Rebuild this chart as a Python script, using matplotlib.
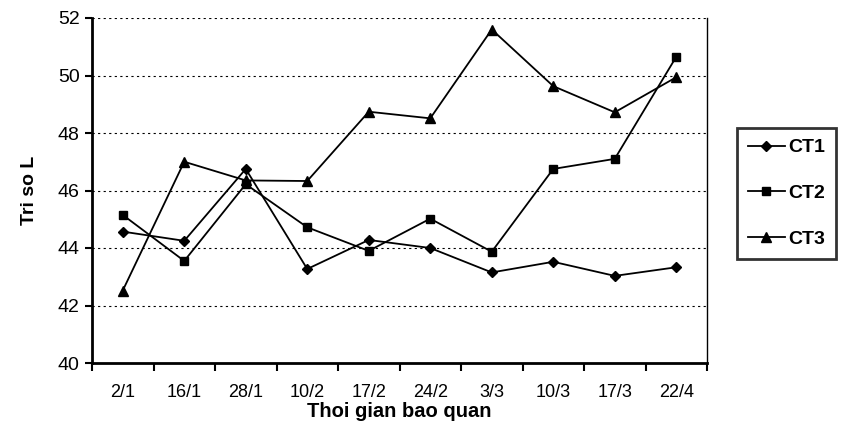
import matplotlib
matplotlib.use("Agg")
import matplotlib.pyplot as plt
import numpy as np

categories = ["2/1", "16/1", "28/1", "10/2", "17/2", "24/2", "3/3", "10/3", "17/3", "22/4"]
ct1 = [44.57, 44.25, 46.75, 43.27, 44.28, 44.0, 43.15, 43.52, 43.03, 43.33]
ct2 = [45.15, 43.55, 46.22, 44.72, 43.9, 45.02, 43.87, 46.75, 47.1, 50.65]
ct3 = [42.52, 47.0, 46.35, 46.33, 48.74, 48.51, 51.6, 49.63, 48.72, 49.94]
yticks = [40, 42, 44, 46, 48, 50, 52]

plt.rcParams['font.family'] = ['Liberation Sans', 'DejaVu Sans']

fig = plt.figure(figsize=(8.42, 4.26), dpi=100)
ax = fig.add_axes([92/842, 1-363/426, (707-92)/842, (363-18)/426])

x = np.arange(len(categories))
ax.plot(x, ct1, color='black', lw=1.3, marker='D', ms=5, label='CT1')
ax.plot(x, ct2, color='black', lw=1.3, marker='s', ms=6, label='CT2')
ax.plot(x, ct3, color='black', lw=1.3, marker='^', ms=6.5, label='CT3')

ax.set_xlim(-0.5, len(categories) - 0.5)
ax.set_ylim(40, 52)
ax.set_yticks(yticks)
ax.set_yticklabels([str(v) for v in yticks], fontsize=14)
for v in yticks[1:]:
    ax.axhline(v, color='black', lw=0.8, ls=(0, (2, 3)), zorder=0)

ax.set_xticks(np.arange(-0.5, len(categories)), minor=False)
ax.set_xticklabels([])
ax.set_xticks(x, minor=True)
ax.set_xticklabels(categories, minor=True, fontsize=13)
ax.tick_params(axis='x', which='major', direction='out', length=6, width=1.5)
ax.tick_params(axis='x', which='minor', length=0, pad=15)
ax.tick_params(axis='y', direction='out', length=5, width=1.5, pad=4)

for s in ['left', 'bottom']:
    ax.spines[s].set_linewidth(2)
ax.spines['top'].set_visible(False)
ax.spines['right'].set_linestyle((0, (1, 1)))
ax.spines['right'].set_linewidth(1)

ax.set_ylabel('Tri so L', fontsize=14, fontweight='bold', labelpad=14)
ax.set_xlabel('Thoi gian bao quan', fontsize=14.5, fontweight='bold', labelpad=1)

leg = ax.legend(loc='upper left', bbox_to_anchor=(737/842, 1-128/426), bbox_transform=fig.transFigure,
                frameon=True, fancybox=False, edgecolor='black',
                prop={'weight': 'bold', 'size': 14}, handlelength=1.9, labelspacing=1.45,
                borderpad=0.55, handletextpad=0.2, borderaxespad=0)
leg.get_frame().set_linewidth(2)

fig.savefig('out.png', dpi=100)
